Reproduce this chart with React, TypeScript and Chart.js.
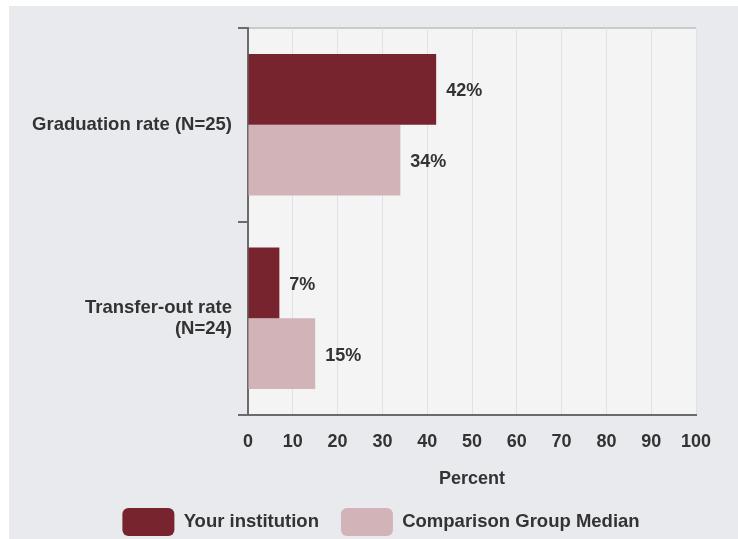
import React, { useEffect, useRef } from "react";
import { Chart, registerables } from "chart.js";

Chart.register(...registerables);

// ---- data ----
const categories: (string | string[])[] = [
  "Graduation rate (N=25)",
  ["Transfer-out rate", "(N=24)"],
];
const seriesNames = ["Your institution", "Comparison Group Median"];
const yourInstitution = [42, 7];
const comparisonMedian = [34, 15];
const xMin = 0;
const xMax = 100;
const xStep = 10;
const xTitle = "Percent";
const valueSuffix = "%";

// ---- styles ----
const COLORS = {
  dark: "#77242f",
  light: "#d2b3b8",
  text: "#333333",
  panel: "#e9eaee",
  plot: "#f4f4f5",
  grid: "#dde2ec",
  axis: "#6b6b6b",
  topBorder: "#c9c9c9",
};
const FONT = '"Liberation Sans", Arial, Helvetica, sans-serif';

const plotBg = {
  id: "plotBg",
  beforeDraw(chart: any) {
    const { ctx, chartArea: a } = chart;
    ctx.save();
    ctx.fillStyle = COLORS.plot;
    ctx.fillRect(a.left, a.top, a.right - a.left, a.bottom - a.top);
    ctx.strokeStyle = COLORS.topBorder;
    ctx.lineWidth = 2;
    ctx.beginPath();
    ctx.moveTo(a.left, a.top);
    ctx.lineTo(a.right, a.top);
    ctx.stroke();
    ctx.restore();
  },
};

const valueLabels = {
  id: "valueLabels",
  afterDatasetsDraw(chart: any) {
    const { ctx } = chart;
    ctx.save();
    ctx.font = `bold 18px ${FONT}`;
    ctx.fillStyle = COLORS.text;
    ctx.textAlign = "left";
    ctx.textBaseline = "middle";
    chart.data.datasets.forEach((ds: any, di: number) => {
      const meta = chart.getDatasetMeta(di);
      meta.data.forEach((el: any, i: number) => {
        ctx.fillText(`${ds.data[i]}${valueSuffix}`, el.x + 10, el.y + 2);
      });
    });
    ctx.restore();
  },
};

export default function App() {
  const ref = useRef<HTMLCanvasElement | null>(null);

  useEffect(() => {
    if (!ref.current) return;
    const chart = new Chart(ref.current, {
      type: "bar",
      data: {
        labels: categories,
        datasets: [
          {
            label: seriesNames[0],
            data: yourInstitution,
            backgroundColor: COLORS.dark,
            borderWidth: 0,
          },
          {
            label: seriesNames[1],
            data: comparisonMedian,
            backgroundColor: COLORS.light,
            borderWidth: 0,
          },
        ],
      },
      options: {
        indexAxis: "y",
        animation: false,
        responsive: true,
        maintainAspectRatio: false,
        layout: { padding: { top: 22, right: 0, bottom: 6, left: 0 } },
        datasets: {
          bar: {
            categoryPercentage: 0.73,
            barPercentage: 1.0,
          },
        },
        plugins: {
          legend: {
            position: "bottom",
            labels: {
              boxWidth: 52,
              boxHeight: 28,
              padding: 22,
              color: COLORS.text,
              font: { family: FONT, size: 18.5, weight: "bold" },
              useBorderRadius: true,
              borderRadius: 6,
            },
          },
          tooltip: { enabled: false },
        },
        scales: {
          x: {
            type: "linear",
            min: xMin,
            max: xMax,
            afterFit(scale: any) {
              scale.height = 71;
            },
            ticks: {
              stepSize: xStep,
              padding: 16,
              color: COLORS.text,
              font: { family: FONT, size: 18, weight: "bold" },
            },
            grid: {
              color: COLORS.grid,
              lineWidth: 1,
              drawTicks: false,
            },
            border: { display: true, color: COLORS.axis, width: 2 },
            title: {
              display: true,
              text: xTitle,
              color: COLORS.text,
              padding: { top: 0, bottom: 0 },
              font: { family: FONT, size: 18, weight: "bold", lineHeight: 0.8 },
            },
          },
          y: {
            type: "category",
            position: "left",
            afterFit(scale: any) {
              scale.width = 239;
              scale.paddingTop = 0;
              scale.paddingBottom = 0;
            },
            ticks: {
              padding: 6,
              color: COLORS.text,
              font: { family: FONT, size: 18.5, weight: "bold", lineHeight: 1.1 },
            },
            grid: {
              display: true,
              drawOnChartArea: false,
              drawTicks: true,
              tickLength: 10,
              offset: true,
              color: COLORS.axis,
              lineWidth: 2,
            },
            border: { display: true, color: COLORS.axis, width: 2 },
          },
          ySpacer: {
            type: "linear",
            axis: "y",
            position: "right",
            display: true,
            afterFit(scale: any) {
              scale.width = 57;
              scale.paddingTop = 0;
              scale.paddingBottom = 0;
            },
            ticks: { display: false },
            grid: { display: false, drawTicks: false },
            border: { display: false },
          },
        },
      },
      plugins: [plotBg, valueLabels],
    });
    return () => chart.destroy();
  }, []);

  return (
    <div
      style={{
        position: "fixed",
        left: 0,
        top: 0,
        width: 738,
        height: 539,
        overflow: "hidden",
        background: "#ffffff",
      }}
    >
      <div
        style={{
          position: "absolute",
          left: 9,
          top: 6,
          width: 744,
          height: 546,
          background: COLORS.panel,
        }}
      >
        <canvas ref={ref} />
      </div>
    </div>
  );
}
